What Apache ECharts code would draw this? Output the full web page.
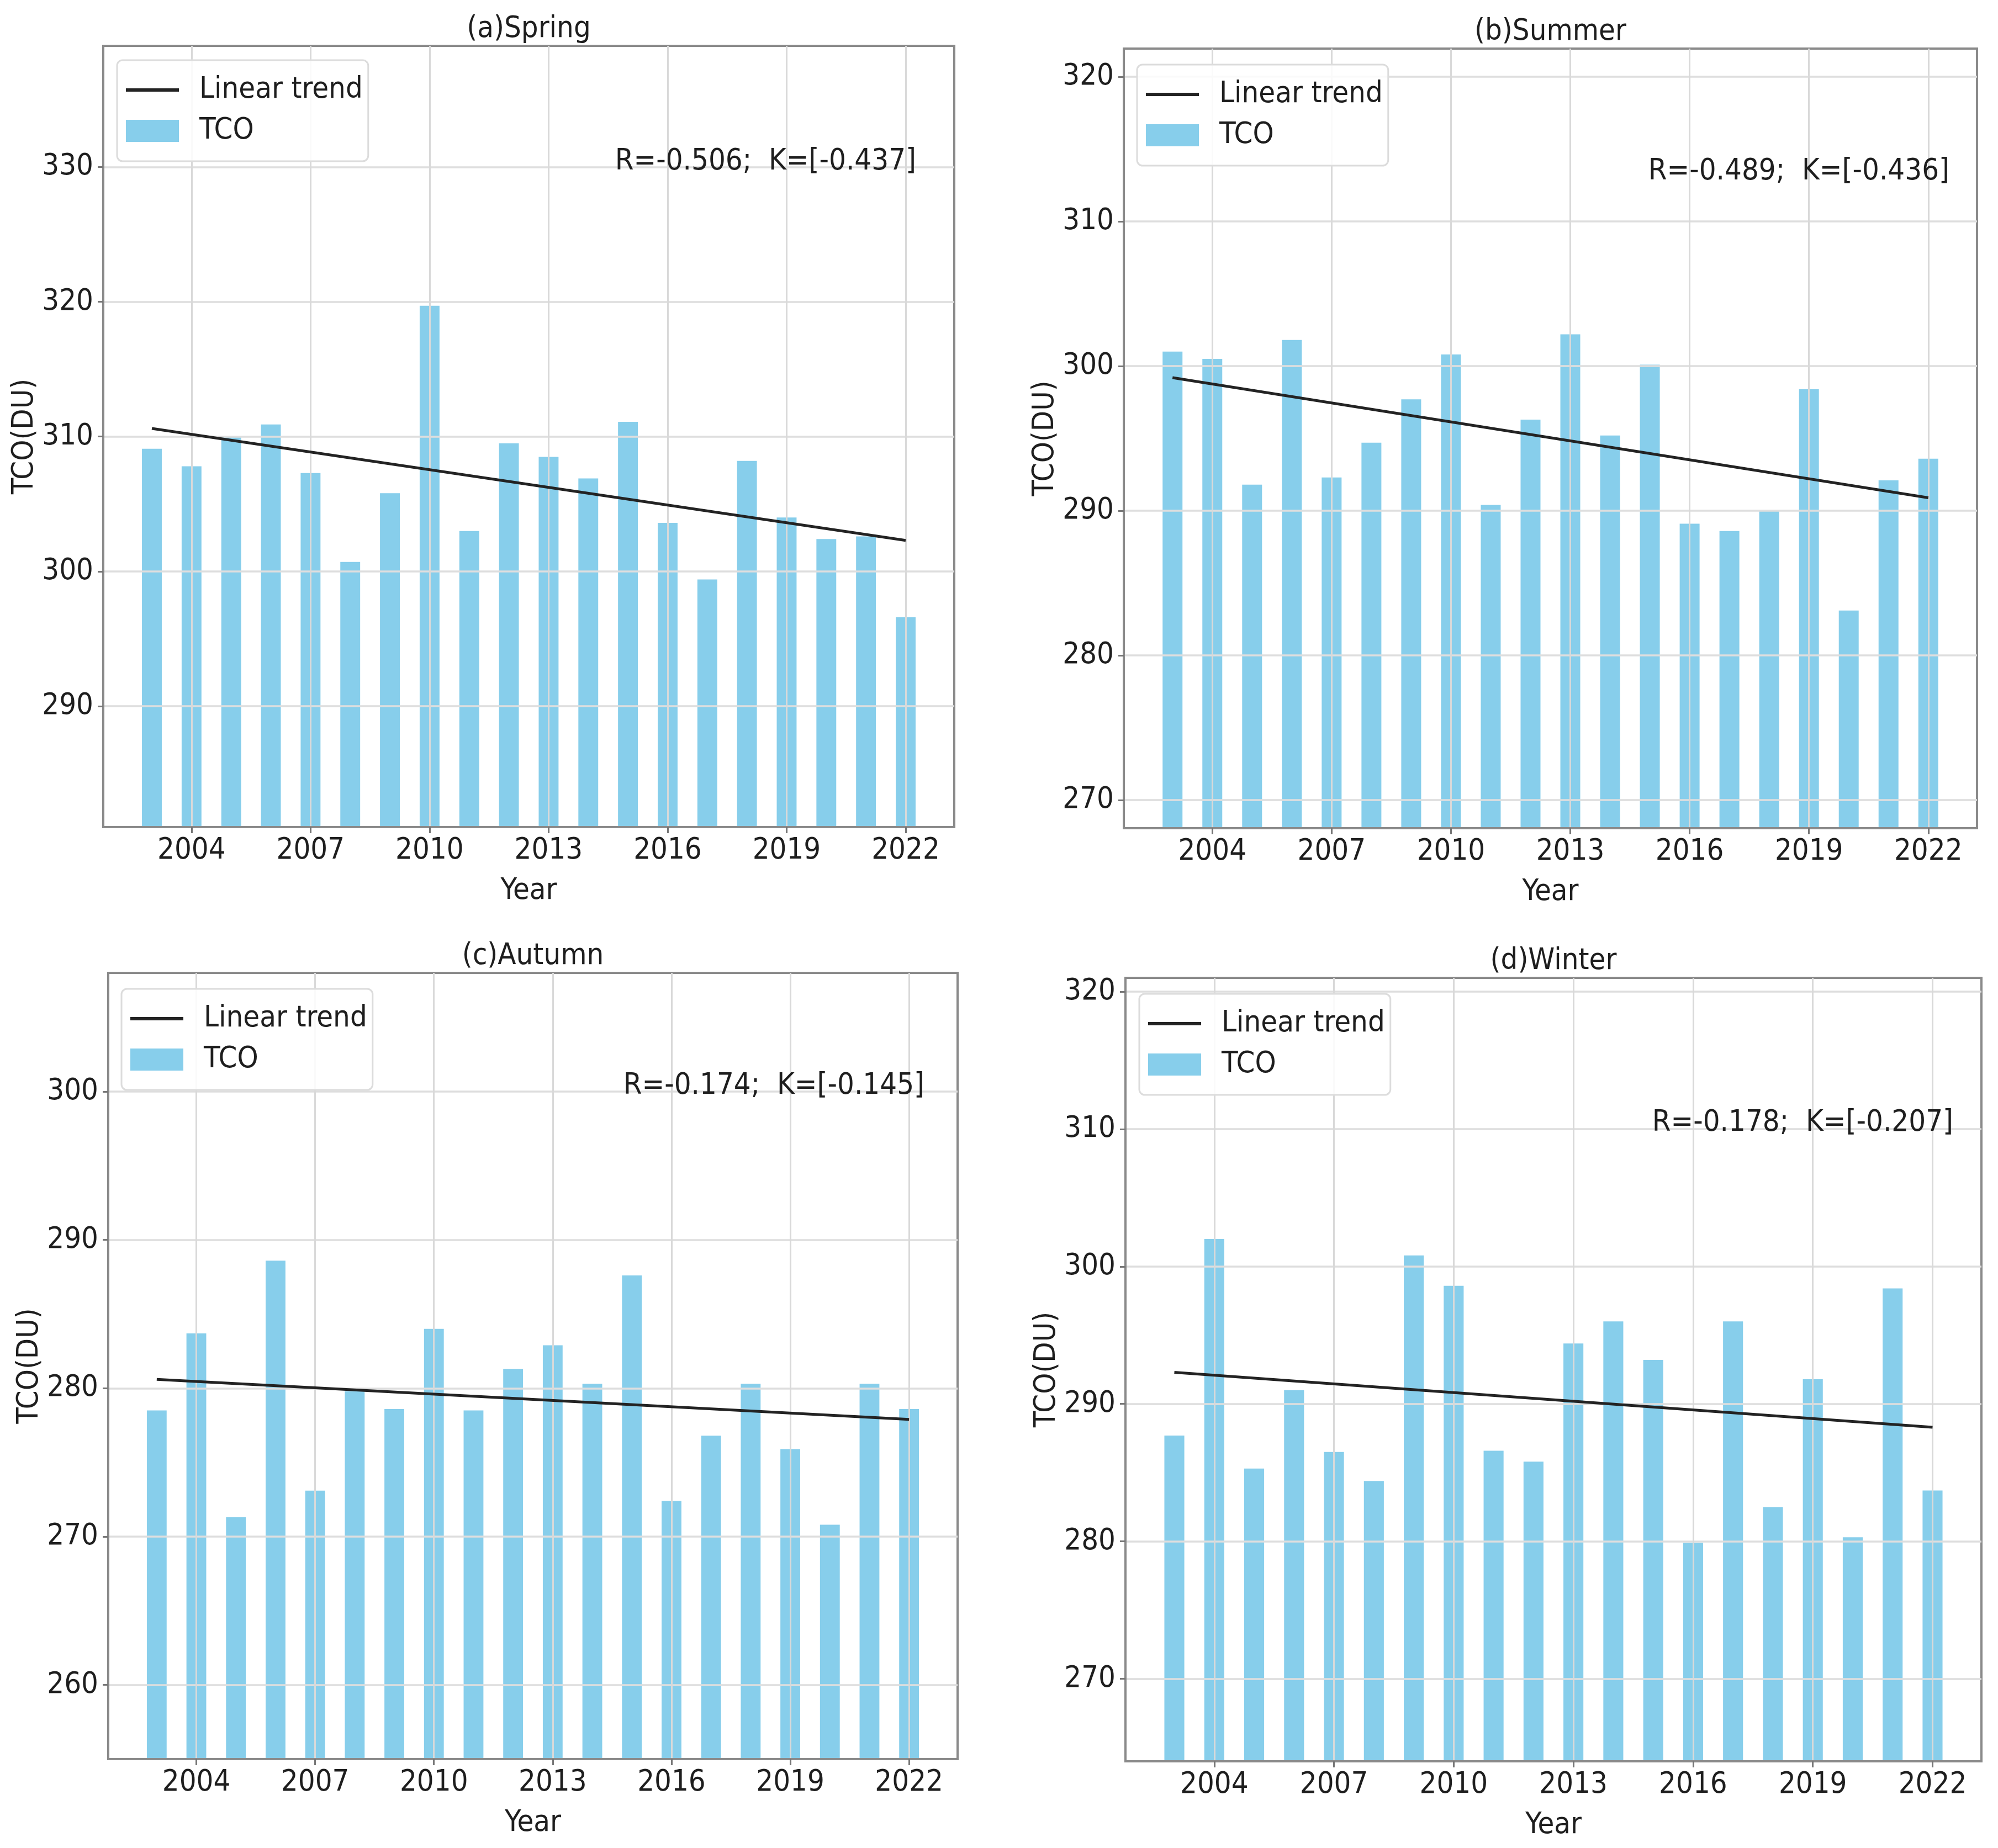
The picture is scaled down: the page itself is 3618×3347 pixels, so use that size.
<!DOCTYPE html>
<html><head><meta charset="utf-8">
<script src="https://cdn.jsdelivr.net/npm/echarts@6/dist/echarts.min.js"></script>
<style>html,body{margin:0;padding:0;background:#fff}#c{width:3618px;height:3347px}</style>
</head><body><div id="c"></div>
<script>
// ---------- data ----------
const years = [2003,2004,2005,2006,2007,2008,2009,2010,2011,2012,2013,2014,2015,2016,2017,2018,2019,2020,2021,2022];
const xTicks = [2004,2007,2010,2013,2016,2019,2022];

const springTCO = [309.1,307.8,310.0,310.9,307.3,300.7,305.8,319.7,303.0,309.5,308.5,306.9,311.1,303.6,299.4,308.2,304.0,302.4,302.6,296.6];
const summerTCO = [301.0,300.5,291.8,301.8,292.3,294.7,297.7,300.8,290.4,296.3,302.2,295.2,300.1,289.1,288.6,290.0,298.4,283.1,292.1,293.6];
const autumnTCO = [278.5,283.7,271.3,288.6,273.1,279.8,278.6,284.0,278.5,281.3,282.9,280.3,287.6,272.4,276.8,280.3,275.9,270.8,280.3,278.6];
const winterTCO = [287.7,302.0,285.3,291.0,286.5,284.4,300.8,298.6,286.6,285.8,294.4,296.0,293.2,279.9,296.0,282.5,291.8,280.3,298.4,283.7];

const trendYears = [2003, 2022];
const springTrend = [310.6, 302.3];
const summerTrend = [299.2, 290.9];
const autumnTrend = [280.6, 277.9];
const winterTrend = [292.3, 288.3];

const springTicks = [290,300,310,320,330];
const summerTicks = [270,280,290,300,310,320];
const autumnTicks = [260,270,280,290,300];
const winterTicks = [270,280,290,300,310,320];

const titles = ['(a)Spring','(b)Summer','(c)Autumn','(d)Winter'];
const stats = ['R=-0.506;  K=[-0.437]','R=-0.489;  K=[-0.436]','R=-0.174;  K=[-0.145]','R=-0.178;  K=[-0.207]'];

// ---------- layout / style ----------
const FONT = "'DejaVu Sans Condensed', 'DejaVu Sans', sans-serif";
const FS = 54;
const TXT = '#1e1e1e';
const BAR_COLOR = '#87CEEB';
const LINE_COLOR = '#232323';
const BAR_HALF = 0.25;
const XMIN = 2001.775, XMAX = 2023.225;

const panels = [
  {tco: springTCO, trend: springTrend, ticks: springTicks, ymin: 281.04, ymax: 338.98,
   grid: {left:187, top:83, width:1541, height:1415}, legend:{left:212, top:109},
   stat:{x:1659, y:293}, yNameGap:110},
  {tco: summerTCO, trend: summerTrend, ticks: summerTicks, ymin: 268.05, ymax: 321.95,
   grid: {left:2035, top:88, width:1545, height:1412}, legend:{left:2059, top:117},
   stat:{x:3530, y:311}, yNameGap:102},
  {tco: autumnTCO, trend: autumnTrend, ticks: autumnTicks, ymin: 255.0, ymax: 308.0,
   grid: {left:196, top:1762, width:1538, height:1424}, legend:{left:220, top:1791},
   stat:{x:1674, y:1967}, yNameGap:110},
  {tco: winterTCO, trend: winterTrend, ticks: winterTicks, ymin: 264.0, ymax: 321.0,
   grid: {left:2038, top:1771, width:1550, height:1419}, legend:{left:2063, top:1800},
   stat:{x:3537, y:2034}, yNameGap:100}
];

function barRender(params, api) {
  const x = api.value(0), v = api.value(1);
  const p0 = api.coord([x - BAR_HALF, v]);
  const p1 = api.coord([x + BAR_HALF, v]);
  const cs = params.coordSys;
  const bottom = cs.y + cs.height;
  return {type:'rect', shape:{x:p0[0], y:p0[1], width:p1[0]-p0[0], height:bottom-p0[1]},
          style:{fill: BAR_COLOR}};
}

const option = {
  backgroundColor:'#fff',
  animation:false,
  textStyle:{fontFamily:FONT, color:TXT},
  grid:[], xAxis:[], yAxis:[], series:[], legend:[], graphic:[]
};

panels.forEach((p, i) => {
  option.grid.push(Object.assign({show:true, borderColor:'#8a8a8a', borderWidth:4, backgroundColor:'transparent'}, p.grid));
  option.xAxis.push({
    type:'value', gridIndex:i, min:XMIN, max:XMAX, z:5,
    name:'Year', nameLocation:'middle', nameGap:89,
    nameTextStyle:{fontSize:FS, fontFamily:FONT, color:TXT},
    axisLine:{show:true, onZero:false, lineStyle:{color:'#8a8a8a', width:4}},
    axisTick:{show:true, customValues:xTicks, length:11, lineStyle:{color:'#777', width:3}},
    axisLabel:{customValues:xTicks, formatter:v=>String(v), fontSize:FS, fontFamily:FONT, color:TXT, margin:16},
    splitLine:{show:true, lineStyle:{color:'#d9d9d9', width:3}}
  });
  option.yAxis.push({
    type:'value', gridIndex:i, min:p.ymin, max:p.ymax, z:5,
    name:'TCO(DU)', nameLocation:'middle', nameGap:p.yNameGap, nameRotate:90,
    nameTextStyle:{fontSize:FS, fontFamily:FONT, color:TXT},
    axisLine:{show:true, lineStyle:{color:'#8a8a8a', width:4}},
    axisTick:{show:true, customValues:p.ticks, length:10, lineStyle:{color:'#777', width:3}},
    axisLabel:{customValues:p.ticks, formatter:v=>String(v), fontSize:FS, fontFamily:FONT, color:TXT, margin:18},
    splitLine:{show:true, lineStyle:{color:'#dedede', width:3.5}}
  });
  option.series.push({
    type:'custom', name:'TCO', xAxisIndex:i, yAxisIndex:i, z:2,
    itemStyle:{color:BAR_COLOR},
    renderItem:barRender, encode:{x:0, y:1},
    data: years.map((y, k) => [y, p.tco[k]])
  });
  option.series.push({
    type:'line', name:'Linear trend', xAxisIndex:i, yAxisIndex:i, z:10,
    symbol:'none', lineStyle:{color:LINE_COLOR, width:5}, itemStyle:{color:LINE_COLOR},
    data: trendYears.map((y, k) => [y, p.trend[k]])
  });
  option.legend.push({
    left:p.legend.left, top:p.legend.top, orient:'vertical', z:8,
    data:[{name:'Linear trend', icon:'path://M0,0H96V6H0Z'}, {name:'TCO', icon:'rect'}],
    itemWidth:96, itemHeight:40, itemGap:20, symbolKeepAspect:true,
    padding:[27,10,28,16],
    backgroundColor:'rgba(255,255,255,0.85)', borderColor:'#dcdcdc', borderWidth:3, borderRadius:10,
    textStyle:{fontSize:FS, fontFamily:FONT, color:TXT, padding:[0,0,0,32]},
    selectedMode:false
  });
  const g = p.grid;
  option.graphic.push({
    type:'text', x:g.left + g.width/2, y:g.top - 30, z:20,
    style:{text:titles[i], fontSize:FS, fontFamily:FONT, fill:TXT, textAlign:'center', textVerticalAlign:'middle'}
  });
  option.graphic.push({
    type:'text', x:p.stat.x, y:p.stat.y, z:20,
    style:{text:stats[i], fontSize:FS, fontFamily:FONT, fill:TXT, textAlign:'right', textVerticalAlign:'middle'}
  });
});

const chart = echarts.init(document.getElementById('c'), null, {renderer:'canvas'});
chart.setOption(option);
</script>
</body></html>
